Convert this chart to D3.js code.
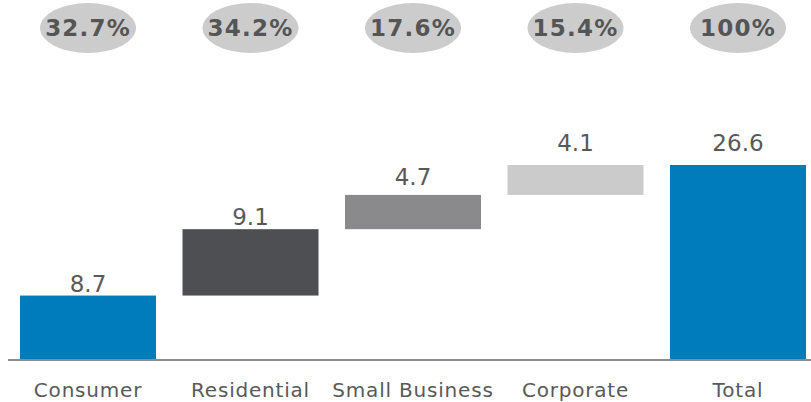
<!DOCTYPE html>
<html>
<head>
<meta charset="utf-8">
<script src="https://cdn.jsdelivr.net/npm/d3@7"></script>
<style>
body { margin: 0; background: #fff; }
svg { font-family: "DejaVu Sans", Verdana, sans-serif; }
</style>
</head>
<body>
<div id="chart"></div>
<script>
var svgWidth = 811;
var svgHeight = 402;

// data
var categories = ["Consumer", "Residential", "Small Business", "Corporate", "Total"];
var values = [8.7, 9.1, 4.7, 4.1, 26.6];
var shares = ["32.7%", "34.2%", "17.6%", "15.4%", "100%"];
var colors = ["#007bbb", "#4d4f53", "#8a8a8c", "#cbcbcb", "#007bbb"];

// gap between each value label and its bar top (layout only)
var labelGaps = [4, 4.5, 10, 14.5, 14.5];

var baseY = 359;
var topY = 165;

var svg = d3.select("#chart")
  .append("svg")
  .attr("width", svgWidth)
  .attr("height", svgHeight);

// waterfall start/end
var cum = 0;
var bars = categories.map(function (c, i) {
  var isTotal = c === "Total";
  var start = isTotal ? 0 : cum;
  var end = isTotal ? values[i] : cum + values[i];
  if (!isTotal) cum = end;
  return {name: c, value: values[i], start: start, end: end, share: shares[i], color: colors[i], gap: labelGaps[i]};
});

var x = d3.scaleBand()
  .domain(categories)
  .range([8, 818])
  .paddingInner(0.163)
  .paddingOuter(0.074);

var y = d3.scaleLinear()
  .domain([0, 26.6])
  .range([baseY, topY]);

// bars
svg.selectAll("rect.bar")
  .data(bars)
  .enter()
  .append("rect")
  .attr("class", "bar")
  .attr("x", d => x(d.name))
  .attr("width", x.bandwidth())
  .attr("y", d => y(d.end))
  .attr("height", d => y(d.start) - y(d.end))
  .attr("fill", d => d.color);

// axis line
svg.append("line")
  .attr("x1", 8)
  .attr("x2", svgWidth)
  .attr("y1", baseY + 1)
  .attr("y2", baseY + 1)
  .attr("stroke", "#666666")
  .attr("stroke-width", 1.5);

// value labels
svg.selectAll("text.val")
  .data(bars)
  .enter()
  .append("text")
  .attr("class", "val")
  .attr("x", d => x(d.name) + x.bandwidth() / 2)
  .attr("y", d => y(d.end) - d.gap)
  .attr("text-anchor", "middle")
  .attr("font-size", 23)
  .attr("fill", "#595959")
  .text(d => d.value);

// category labels
svg.selectAll("text.cat")
  .data(bars)
  .enter()
  .append("text")
  .attr("class", "cat")
  .attr("x", d => x(d.name) + x.bandwidth() / 2)
  .attr("y", 397)
  .attr("text-anchor", "middle")
  .attr("font-size", 20)
  .attr("letter-spacing", 0.8)
  .attr("fill", "#595959")
  .text(d => d.name);

// share bubbles
var bubbles = svg.selectAll("g.share")
  .data(bars)
  .enter()
  .append("g")
  .attr("class", "share")
  .attr("transform", d => `translate(${x(d.name) + x.bandwidth() / 2}, 28)`);

bubbles.append("ellipse")
  .attr("rx", 48)
  .attr("ry", 25)
  .attr("fill", "#cccccc");

bubbles.append("text")
  .attr("y", 8)
  .attr("text-anchor", "middle")
  .attr("font-size", 23)
  .attr("font-weight", "bold")
  .attr("letter-spacing", 1.2)
  .attr("fill", "#555555")
  .text(d => d.share);
</script>
</body>
</html>
